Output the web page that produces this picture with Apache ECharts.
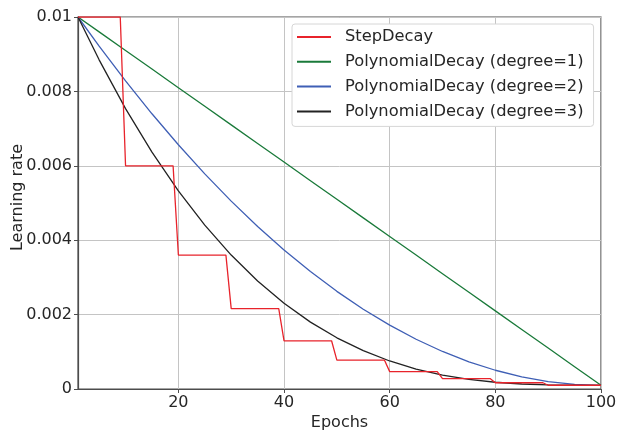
<!DOCTYPE html>
<html>
<head>
<meta charset="utf-8">
<script src="https://cdn.jsdelivr.net/npm/echarts@6/dist/echarts.min.js"></script>
<style>
  html, body { margin: 0; padding: 0; background: #fff; }
  #chart { width: 619px; height: 431px; }
</style>
</head>
<body>
<div id="chart"></div>
<script>
// Learning-rate schedules over 100 epochs
const seriesNames = [
  'StepDecay',
  'PolynomialDecay (degree=1)',
  'PolynomialDecay (degree=2)',
  'PolynomialDecay (degree=3)'
];

// StepDecay: [epoch, rate] at the ends of each constant stretch
const stepDecay = [
  [1, 0.01], [9, 0.01],
  [10, 0.006], [19, 0.006],
  [20, 0.0036], [29, 0.0036],
  [30, 0.00216], [39, 0.00216],
  [40, 0.001296], [49, 0.001296],
  [50, 0.000778], [59, 0.000778],
  [60, 0.000467], [69, 0.000467],
  [70, 0.00028], [79, 0.00028],
  [80, 0.000168], [89, 0.000168],
  [90, 0.000101], [100, 0.000101]
];

// Polynomial decay curves, sampled every 5 epochs
const polyEpochs = [1, 5, 10, 15, 20, 25, 30, 35, 40, 45, 50, 55, 60, 65, 70, 75, 80, 85, 90, 95, 100];
const polyDeg1 = [0.01, 0.0096, 0.0091, 0.0086, 0.0081, 0.0076, 0.0071, 0.0066, 0.0061, 0.0056,
                  0.0051, 0.0046, 0.0041, 0.0036, 0.0031, 0.0026, 0.0021, 0.0016, 0.0011, 0.0006, 0.0001];
const polyDeg2 = [0.01, 0.009217, 0.008282, 0.007398, 0.006565, 0.005782, 0.00505, 0.004368, 0.003737,
                  0.003156, 0.002625, 0.002145, 0.001716, 0.001337, 0.001009, 0.000731, 0.000504,
                  0.000327, 0.000201, 0.000125, 0.0001];
const polyDeg3 = [0.01, 0.008849, 0.007538, 0.006366, 0.005324, 0.004404, 0.0036, 0.002903, 0.002304,
                  0.001798, 0.001376, 0.00103, 0.000753, 0.000537, 0.000375, 0.000259, 0.000182,
                  0.000134, 0.00011, 0.000101, 0.0001];

const yTicks = [0, 0.002, 0.004, 0.006, 0.008, 0.01];
const xTicks = [20, 40, 60, 80, 100];

const colors = ['#e8232b', '#1a7a3a', '#3f5fb5', '#222222'];
const FONT = 'DejaVu Sans';
const TEXT = '#262626';

const pair = (xs, ys) => xs.map((x, i) => [x, ys[i]]);

const chart = echarts.init(document.getElementById('chart'), null, { renderer: 'canvas' });

const lineSeries = (name, data, color, z) => ({
  name: name,
  type: 'line',
  data: data,
  symbol: 'none',
  smooth: false,
  z: z,
  lineStyle: { color: color, width: 1.3 },
  itemStyle: { color: color }
});

chart.setOption({
  animation: false,
  backgroundColor: '#ffffff',
  textStyle: { fontFamily: FONT },
  grid: {
    left: 78, right: 18, top: 17, bottom: 42,
    outerBoundsMode: 'none',
    show: true, borderColor: '#4d4d4d', borderWidth: 1.2,
    containLabel: false
  },
  legend: {
    orient: 'vertical',
    left: 292, top: 24,
    padding: [5, 10, 7, 5],
    icon: 'rect',
    itemWidth: 34, itemHeight: 2, itemGap: 8.8,
    backgroundColor: '#ffffff',
    borderColor: '#d6d6d6', borderWidth: 1, borderRadius: 3,
    textStyle: { fontFamily: FONT, fontSize: 16.3, lineHeight: 16, color: TEXT, padding: [0, 0, 0, 9] },
    data: seriesNames
  },
  xAxis: {
    type: 'value',
    min: 1, max: 100,
    splitNumber: 5,
    name: 'Epochs',
    nameLocation: 'middle',
    nameGap: 26,
    nameMoveOverlap: false,
    nameTextStyle: { fontFamily: FONT, fontSize: 16, color: TEXT },
    axisLine: { show: true, lineStyle: { color: '#4d4d4d', width: 1.2 } },
    axisTick: { show: true, length: 4, lineStyle: { color: '#4d4d4d' },
                customValues: xTicks },
    axisLabel: { fontFamily: FONT, fontSize: 16, color: TEXT, margin: 6,
                 customValues: xTicks },
    splitLine: { show: true, lineStyle: { color: '#c4c4c4', width: 1 } }
  },
  yAxis: {
    type: 'value',
    min: 0, max: 0.01, interval: 0.002,
    name: 'Learning rate',
    nameLocation: 'middle',
    nameGap: 52,
    nameMoveOverlap: false,
    nameTextStyle: { fontFamily: FONT, fontSize: 16, color: TEXT, padding: [0, 0, 0, 11] },
    axisLine: { show: true, lineStyle: { color: '#4d4d4d', width: 1.2 } },
    axisTick: { show: true, length: 4, lineStyle: { color: '#4d4d4d' } },
    axisLabel: {
      fontFamily: FONT, fontSize: 16, color: TEXT, margin: 6,
      formatter: v => {
        const t = yTicks.find(y => Math.abs(y - v) < 1e-9);
        return t === undefined ? '' : String(t);
      }
    },
    splitLine: { show: true, lineStyle: { color: '#c4c4c4', width: 1 } }
  },
  series: [
    lineSeries(seriesNames[0], stepDecay, colors[0], 4),
    lineSeries(seriesNames[1], pair(polyEpochs, polyDeg1), colors[1], 3),
    lineSeries(seriesNames[2], pair(polyEpochs, polyDeg2), colors[2], 3),
    lineSeries(seriesNames[3], pair(polyEpochs, polyDeg3), colors[3], 3)
  ]
});
</script>
</body>
</html>
